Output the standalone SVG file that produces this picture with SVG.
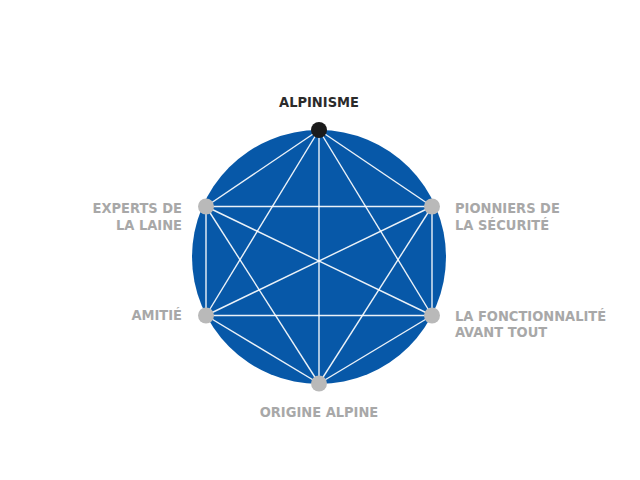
<svg xmlns="http://www.w3.org/2000/svg" width="640" height="480" viewBox="0 0 640 480">
<style>
.lbl{font-family:"DejaVu Sans Condensed","Liberation Sans",sans-serif;font-weight:bold;font-size:14.5px;fill:#a8a8a8}
.top{fill:#2b2b2b}
.edge{stroke:#ffffff;stroke-width:1.4;stroke-opacity:0.92}
.dot{fill:#b9b9b9}
</style>
<rect width="640" height="480" fill="#ffffff"/>
<circle id="disc" cx="319" cy="257" r="127" fill="#0758a8"/>
<g id="connectors">
<line class="edge" x1="319" y1="130" x2="206" y2="206.5"/>
<line class="edge" x1="319" y1="130" x2="432" y2="206.5"/>
<line class="edge" x1="319" y1="130" x2="206" y2="315.5"/>
<line class="edge" x1="319" y1="130" x2="432" y2="315.5"/>
<line class="edge" x1="319" y1="130" x2="319" y2="383.5"/>
<line class="edge" x1="206" y1="206.5" x2="432" y2="206.5"/>
<line class="edge" x1="206" y1="206.5" x2="206" y2="315.5"/>
<line class="edge" x1="206" y1="206.5" x2="432" y2="315.5"/>
<line class="edge" x1="206" y1="206.5" x2="319" y2="383.5"/>
<line class="edge" x1="432" y1="206.5" x2="206" y2="315.5"/>
<line class="edge" x1="432" y1="206.5" x2="432" y2="315.5"/>
<line class="edge" x1="432" y1="206.5" x2="319" y2="383.5"/>
<line class="edge" x1="206" y1="315.5" x2="432" y2="315.5"/>
<line class="edge" x1="206" y1="315.5" x2="319" y2="383.5"/>
<line class="edge" x1="432" y1="315.5" x2="319" y2="383.5"/>
</g>
<g id="n-alpinisme">
<circle cx="319" cy="130" r="8" fill="#1a1a1a"/>
<text class="lbl top" x="319" y="107" text-anchor="middle">ALPINISME</text>
</g>
<g id="n-experts">
<circle class="dot" cx="206" cy="206.5" r="8"/>
<text class="lbl" x="182" y="213" text-anchor="end">EXPERTS DE</text>
<text class="lbl" x="182" y="229.5" text-anchor="end">LA LAINE</text>
</g>
<g id="n-pionniers">
<circle class="dot" cx="432" cy="206.5" r="8"/>
<text class="lbl" x="455" y="213">PIONNIERS DE</text>
<text class="lbl" x="455" y="229.5">LA SÉCURITÉ</text>
</g>
<g id="n-amitie">
<circle class="dot" cx="206" cy="315.5" r="8"/>
<text class="lbl" x="182" y="320" text-anchor="end">AMITIÉ</text>
</g>
<g id="n-fonctionnalite">
<circle class="dot" cx="432" cy="315.5" r="8"/>
<text class="lbl" x="455" y="320.5">LA FONCTIONNALITÉ</text>
<text class="lbl" x="455" y="337">AVANT TOUT</text>
</g>
<g id="n-origine">
<circle class="dot" cx="319" cy="383.5" r="8"/>
<text class="lbl" x="319" y="416.5" text-anchor="middle">ORIGINE ALPINE</text>
</g>
</svg>
